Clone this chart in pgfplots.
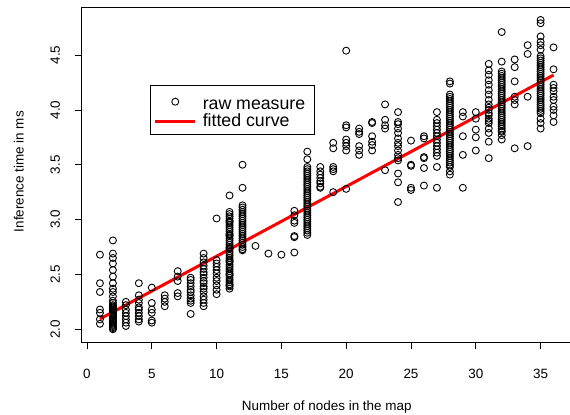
\documentclass[border=0pt]{standalone}
\usepackage{fontspec}
\setmainfont{Liberation Sans}
\usepackage{pgfplots}
\pgfplotsset{compat=1.18}

\begin{document}
\begin{tikzpicture}
\begin{axis}[
  scale only axis, width=489.9bp, height=334.1bp,
  xmin=-0.4, xmax=37.4, ymin=1.884, ymax=4.93,
  axis line style={line width=0.8bp},
  tick align=outside, xtick pos=bottom, ytick pos=left,
  major tick length=7bp,
  every tick/.style={black, line width=0.8bp},
  xtick={0,5,10,15,20,25,30,35},
  ytick={2,2.5,3,3.5,4,4.5},
  /pgf/number format/assume math mode=true,
  tick label style={font=\fontsize{13.5}{16}\selectfont},
  yticklabel={\pgfmathprintnumber[fixed,fixed zerofill,precision=1]{\tick}},
  xticklabel style={anchor=base, yshift=-29bp},
  yticklabel style={rotate=90, anchor=south, inner ysep=14.8bp, text depth=0pt},
  xlabel={Number of nodes in the map},
  ylabel={Inference time in ms},
  label style={font=\fontsize{13.5}{16}\selectfont},
  xlabel style={at={(axis description cs:0.5,-0.2065)}, anchor=base},
  ylabel style={at={(axis description cs:-0.1286,0.51)}, anchor=center, rotate=0},
  legend style={at={(axis cs:4.89,4.227)}, anchor=north west, draw=black,
    line width=0.8bp, inner xsep=3bp, inner ysep=4.7bp,
    font=\fontsize{17.8}{17.8}\selectfont,
    nodes={inner xsep=6bp, inner ysep=0pt, text height=13bp, text depth=3.6bp},
    row sep=0pt,
    /tikz/every even column/.append style={column sep=4bp}},
  legend cell align=left,
]
\addplot[only marks, mark=o, mark size=3.5bp, mark options={black, line width=0.9bp},
  legend image code/.code={\path[draw=none, fill=none] (0bp,0bp) -- (40bp,0bp);
    \draw[black, line width=0.9bp] (20bp,0bp) circle[radius=3.5bp];}]
coordinates {
(1,2.68) (1,2.42) (1,2.34) (1,2.18) (1,2.15) (1,2.09) (1,2.05)
(2,2.81) (2,2.69) (2,2.65) (2,2.60) (2,2.54) (2,2.48) (2,2.42) (2,2.37) (2,2.34) (2,2.30) (2,2.26) (2,2.24)
(2,2.22) (2,2.21) (2,2.20) (2,2.19) (2,2.18) (2,2.17) (2,2.16) (2,2.15) (2,2.14) (2,2.13) (2,2.12) (2,2.11)
(2,2.10) (2,2.09) (2,2.08) (2,2.07) (2,2.06) (2,2.05) (2,2.04) (2,2.03) (2,2.02) (2,2.01) (2,2.00)
(3,2.25) (3,2.22) (3,2.18) (3,2.15) (3,2.12) (3,2.09) (3,2.06) (3,2.03)
(4,2.42) (4,2.31) (4,2.27) (4,2.24) (4,2.20) (4,2.18) (4,2.15) (4,2.12) (4,2.09) (4,2.07)
(5,2.38) (5,2.24) (5,2.18) (5,2.15) (5,2.08) (5,2.06)
(6,2.31) (6,2.28) (6,2.25) (6,2.21)
(7,2.53) (7,2.48) (7,2.44) (7,2.33) (7,2.30)
(8,2.47) (8,2.45) (8,2.42) (8,2.39) (8,2.36) (8,2.34) (8,2.31) (8,2.28) (8,2.26) (8,2.24) (8,2.14)
(9,2.69) (9,2.65) (9,2.61) (9,2.58) (9,2.55) (9,2.52) (9,2.50) (9,2.47) (9,2.44) (9,2.42) (9,2.39) (9,2.37)
(9,2.34) (9,2.30) (9,2.27) (9,2.24) (9,2.21)
(10,3.01) (10,2.63) (10,2.60) (10,2.57) (10,2.54) (10,2.51) (10,2.47) (10,2.44) (10,2.40) (10,2.36) (10,2.32)
(11,3.22) (11,3.07) (11,3.05) (11,3.03) (11,3.01) (11,2.99) (11,2.98) (11,2.97) (11,2.95) (11,2.93) (11,2.91)
(11,2.89) (11,2.87) (11,2.86) (11,2.85) (11,2.83) (11,2.81) (11,2.79) (11,2.77) (11,2.75) (11,2.74) (11,2.73)
(11,2.71) (11,2.69) (11,2.67) (11,2.65) (11,2.63) (11,2.62) (11,2.61) (11,2.59) (11,2.57) (11,2.55) (11,2.53)
(11,2.51) (11,2.50) (11,2.49) (11,2.47) (11,2.45) (11,2.43) (11,2.41) (11,2.40) (11,2.39) (11,2.37)
(12,3.50) (12,3.29) (12,3.13) (12,3.11) (12,3.09) (12,3.07) (12,3.05) (12,3.03) (12,3.01) (12,2.99) (12,2.97)
(12,2.95) (12,2.93) (12,2.91) (12,2.89) (12,2.87) (12,2.85) (12,2.83) (12,2.81) (12,2.79) (12,2.77) (12,2.75)
(12,2.73) (12,2.72)
(13,2.76) (14,2.69) (15,2.68)
(16,3.08) (16,3.04) (16,2.99) (16,2.97) (16,2.85) (16,2.84) (16,2.70)
(17,3.62) (17,3.55) (17,3.48) (17,3.46) (17,3.44) (17,3.42) (17,3.40) (17,3.38) (17,3.36) (17,3.34) (17,3.32)
(17,3.30) (17,3.28) (17,3.26) (17,3.24) (17,3.22) (17,3.20) (17,3.18) (17,3.16) (17,3.14) (17,3.12) (17,3.10)
(17,3.08) (17,3.06) (17,3.04) (17,3.02) (17,3.00) (17,2.98) (17,2.96) (17,2.94) (17,2.92) (17,2.90) (17,2.88)
(17,2.86)
(18,3.48) (18,3.44) (18,3.41) (18,3.38) (18,3.35) (18,3.33) (18,3.30) (18,3.29)
(19,3.70) (19,3.65) (19,3.48) (19,3.46) (19,3.44) (19,3.25)
(20,4.54) (20,3.86) (20,3.84) (20,3.73) (20,3.70) (20,3.67) (20,3.63) (20,3.28)
(21,3.83) (21,3.80) (21,3.78) (21,3.67) (21,3.63) (21,3.59)
(22,3.89) (22,3.88) (22,3.76) (22,3.71) (22,3.68) (22,3.63)
(23,4.05) (23,3.91) (23,3.86) (23,3.83) (23,3.45)
(24,3.98) (24,3.89) (24,3.87) (24,3.83) (24,3.79) (24,3.74) (24,3.70) (24,3.67) (24,3.63) (24,3.59) (24,3.56)
(24,3.54) (24,3.42) (24,3.34) (24,3.16)
(25,3.72) (25,3.50) (25,3.49) (25,3.29) (25,3.27)
(26,3.76) (26,3.74) (26,3.57) (26,3.56) (26,3.47) (26,3.31)
(27,3.98) (27,3.91) (27,3.88) (27,3.85) (27,3.82) (27,3.79) (27,3.76) (27,3.73) (27,3.70) (27,3.67) (27,3.64)
(27,3.61) (27,3.58) (27,3.48) (27,3.29)
(28,4.26) (28,4.24) (28,4.14) (28,4.12) (28,4.10) (28,4.08) (28,4.06) (28,4.04) (28,4.02) (28,4.00) (28,3.98)
(28,3.96) (28,3.94) (28,3.92) (28,3.90) (28,3.88) (28,3.86) (28,3.84) (28,3.82) (28,3.80) (28,3.78) (28,3.76)
(28,3.74) (28,3.72) (28,3.70) (28,3.68) (28,3.66) (28,3.64) (28,3.62) (28,3.60) (28,3.58) (28,3.56) (28,3.54)
(28,3.52) (28,3.50) (28,3.48) (28,3.44) (28,3.41)
(29,3.98) (29,3.94) (29,3.76) (29,3.59) (29,3.29)
(30,3.98) (30,3.92) (30,3.82) (30,3.75) (30,3.63)
(31,4.42) (31,4.36) (31,4.32) (31,4.27) (31,4.23) (31,4.18) (31,4.14) (31,4.09) (31,4.05) (31,4.02) (31,4.00)
(31,3.97) (31,3.95) (31,3.92) (31,3.90) (31,3.88) (31,3.83) (31,3.79) (31,3.71) (31,3.56)
(32,4.71) (32,4.44) (32,4.35) (32,4.33) (32,4.31) (32,4.29) (32,4.27) (32,4.25) (32,4.23) (32,4.21) (32,4.19)
(32,4.17) (32,4.15) (32,4.13) (32,4.11) (32,4.09) (32,4.07) (32,4.05) (32,4.03) (32,4.01) (32,3.99) (32,3.97)
(32,3.95) (32,3.93) (32,3.91) (32,3.89) (32,3.87) (32,3.85) (32,3.83) (32,3.81) (32,3.80) (32,3.77) (32,3.73)
(33,4.46) (33,4.39) (33,4.26) (33,4.12) (33,4.09) (33,4.05) (33,3.65)
(34,4.59) (34,4.51) (34,4.12) (34,3.67)
(35,4.82) (35,4.79) (35,4.67) (35,4.62) (35,4.59) (35,4.55) (35,4.49) (35,4.47) (35,4.45) (35,4.43) (35,4.41)
(35,4.39) (35,4.37) (35,4.35) (35,4.33) (35,4.31) (35,4.29) (35,4.27) (35,4.25) (35,4.23) (35,4.21) (35,4.19)
(35,4.17) (35,4.15) (35,4.13) (35,4.11) (35,4.09) (35,4.07) (35,4.05) (35,4.03) (35,4.01) (35,3.99) (35,3.97)
(35,3.92) (35,3.88) (35,3.83)
(36,4.57) (36,4.37) (36,4.23) (36,4.20) (36,4.17) (36,4.12) (36,4.09) (36,4.03) (36,4.00) (36,3.95) (36,3.89)
};
\addlegendentry[text height=19.6bp]{raw measure}

\addplot[red, line width=3bp, no marks,
  legend image code/.code={\draw[red, line width=3bp] (0bp,0bp) -- (40bp,0bp);}]
coordinates {(1,2.094) (36,4.318)};
\addlegendentry{fitted curve}
\end{axis}
\pgfresetboundingbox
\path[use as bounding box] ([xshift=-81.8bp,yshift=-73bp]current axis.south west)
  rectangle ([xshift=488.2bp,yshift=7.9bp]current axis.north west);
\end{tikzpicture}
\end{document}
